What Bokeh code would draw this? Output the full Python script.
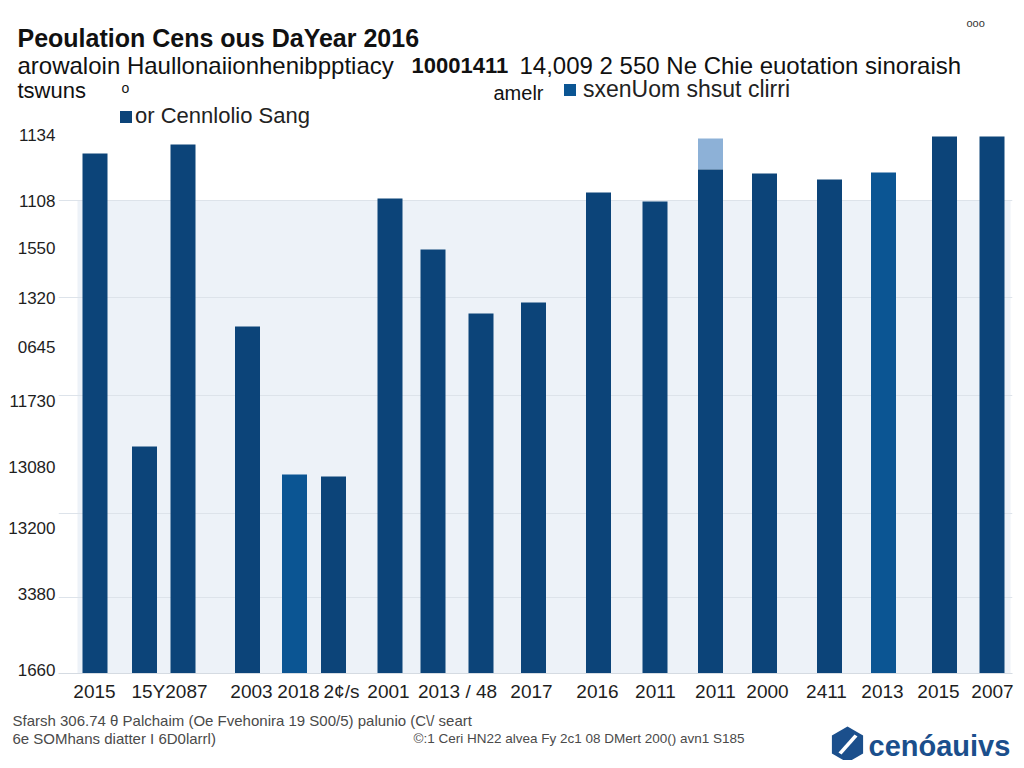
from bokeh.plotting import figure
from bokeh.layouts import column
from bokeh.models import (Range1d, FixedTicker, Label, Span, BoxAnnotation,
                          PolyAnnotation, Legend, LegendItem, ColumnDataSource)
from bokeh.embed import file_html
from bokeh.resources import INLINE

# ---------------- data ----------------
bar_slots = [3.65, 8.6, 12.45, 18.9, 23.6, 27.5, 33.15, 37.45, 42.25, 47.5,
             54.0, 59.65, 65.2, 70.6, 77.1, 82.5, 88.6, 93.35]
population = [1040, 454, 1058, 694, 398, 394, 950, 848, 720, 742,
              962, 944, 1008, 1000, 988, 1002, 1074, 1074]
population_extra = [0, 0, 0, 0, 0, 0, 0, 0, 0, 0,
                    0, 0, 62, 0, 0, 0, 0, 0]
x_tick_slots = [3.6, 11.1, 19.3, 24.0, 28.3, 33.0, 39.9, 47.3, 53.9, 59.7,
                65.7, 70.9, 76.8, 82.4, 88.0, 93.4]
x_tick_labels = ["2015", "15Y2087", "2003", "2018", "2\u00a2/s", "2001", "2013 / 48",
                 "2017", "2016", "2011", "2011", "2000", "2411", "2013", "2015", "2007"]
y_tick_values = [1078, 946, 852, 752, 654, 546, 414, 292, 160, 8]
y_tick_labels = ["1134", "1108", "1550", "1320", "0645", "11730", "13080",
                 "13200", "3380", "1660"]
grid_values = [946, 752, 556, 320, 152]
series_names = ["or Cennlolio Sang", "sxenUom shsut clirri"]

# ---------------- styles ----------------
DARK = "#0c4479"
MID = "#0b5593"
LIGHT = "#8db1d7"
TEXT = "#111111"
FOOT = "#4a4a4a"
LOGO = "#1b4f8c"
bar_colors = [MID if i in (4, 15) else DARK for i in range(len(population))]
FONT = "Liberation Sans"
W = 1016
HEAD_H, MAIN_H, FOOT_H = 104, 601, 55


def no_align(f):
    try:
        f.frame_align = False
    except Exception:
        pass


def bare_fig(h, y0):
    f = figure(width=W, height=h, x_range=Range1d(0, W), y_range=Range1d(y0 + h, y0),
               output_backend="svg", toolbar_location=None,
               x_axis_location=None, y_axis_location=None,
               min_border=0, min_border_left=0, min_border_right=0,
               min_border_top=0, min_border_bottom=0)
    f.outline_line_color = None
    f.xgrid.grid_line_color = None
    f.ygrid.grid_line_color = None
    no_align(f)
    return f


def lab(fig, text, x, y, size, bold=False, color=TEXT):
    fig.add_layout(Label(x=x, y=y, text=text, text_font=FONT, text_font_size=f"{size}px",
                         text_font_style="bold" if bold else "normal",
                         text_color=color, text_align="left", text_baseline="middle"))


# ---------------- header ----------------
head = bare_fig(HEAD_H, 0)
lab(head, "Peoulation Cens ous DaYear 2016", 17, 37, 25, bold=True)
lab(head, "arowaloin Haullonaiionhenibpptiacy", 17, 65, 24)
lab(head, "10001411", 411, 65, 22, bold=True)
lab(head, "14,009 2 550 Ne Chie euotation sinoraish", 519, 65, 24)
lab(head, "tswuns", 17, 90, 22)
lab(head, "o", 121, 87, 14)
lab(head, "amelr", 493, 92, 20)
lab(head, "ooo", 966, 22, 11, color="#333333")
# legend swatch for the second series (zero-height placeholder bar, off the visible range)
swatch_src = ColumnDataSource(dict(x=[-50], top=[0]))
swatch = head.vbar(x="x", top="top", width=1, source=swatch_src,
                   fill_color=MID, line_color=None)
head.add_layout(Legend(items=[LegendItem(label=series_names[1], renderers=[swatch])],
                       location=(562, 1), padding=0, margin=0, spacing=0,
                       border_line_color=None, background_fill_alpha=0,
                       glyph_width=15, glyph_height=15, label_standoff=6,
                       label_text_font=FONT, label_text_font_size="23px",
                       label_text_color="#222222"), "center")

# ---------------- main chart ----------------
src = ColumnDataSource(dict(
    x=bar_slots, top=population,
    top2=[a + b for a, b in zip(population, population_extra)],
    color=bar_colors,
))

p = figure(width=W, height=MAIN_H, x_range=Range1d(0, 95.4), y_range=Range1d(0, 1138),
           output_backend="svg", toolbar_location=None,
           min_border_left=58, min_border_right=4, min_border_top=0, min_border_bottom=32)
no_align(p)
p.outline_line_color = None
p.background_fill_color = "white"
p.xgrid.grid_line_color = None
p.ygrid.grid_line_color = None

p.add_layout(BoxAnnotation(left=1.9, right=95.2, bottom=0, top=grid_values[0],
                           fill_color="#edf2f8", fill_alpha=1, line_color=None,
                           level="underlay"))
for g in grid_values:
    p.add_layout(Span(location=g, dimension="width", line_color="#dde3ea",
                      line_width=1, level="underlay"))

p.vbar(x="x", bottom="top", top="top2", width=2.5, source=src,
       fill_color=LIGHT, line_color=None)
bars = p.vbar(x="x", top="top", width=2.5, source=src,
              fill_color="color", line_color=None)

p.xaxis.ticker = FixedTicker(ticks=x_tick_slots)
p.xaxis.major_label_overrides = {t: l for t, l in zip(x_tick_slots, x_tick_labels)}
p.xaxis.major_label_text_font = FONT
p.xaxis.major_label_text_font_size = "19px"
p.xaxis.major_label_text_color = "#1e1e1e"
p.xaxis.major_tick_line_color = None
p.xaxis.minor_tick_line_color = None
p.xaxis.major_tick_out = 0
p.xaxis.major_tick_in = 0
p.xaxis.axis_line_color = "#d5dbe2"
p.xaxis.major_label_standoff = 7

p.yaxis.ticker = FixedTicker(ticks=y_tick_values)
p.yaxis.major_label_overrides = {t: l for t, l in zip(y_tick_values, y_tick_labels)}
p.yaxis.major_label_text_font = FONT
p.yaxis.major_label_text_font_size = "17px"
p.yaxis.major_label_text_color = "#1e1e1e"
p.yaxis.major_tick_line_color = None
p.yaxis.minor_tick_line_color = None
p.yaxis.major_tick_out = 0
p.yaxis.major_tick_in = 0
p.yaxis.axis_line_color = None
p.yaxis.major_label_standoff = 3

p.add_layout(Legend(items=[LegendItem(label=series_names[0], renderers=[bars], index=0)],
                    location=(60, 544), padding=0, margin=0, spacing=0,
                    border_line_color=None, background_fill_alpha=0,
                    glyph_width=15, glyph_height=15, label_standoff=2,
                    label_text_font=FONT, label_text_font_size="22px",
                    label_text_color="#222222"), "center")

# ---------------- footer ----------------
foot = bare_fig(FOOT_H, HEAD_H + MAIN_H)
lab(foot, "Sfarsh 306.74 \u03b8 Palchaim (Oe Fvehonira 19 S00/5) palunio (C\\/ seart",
    12, 720, 15, color=FOOT)
lab(foot, "6e SOMhans diatter I 6D0larrl)", 12, 738, 15, color=FOOT)
lab(foot, "\u00a9:1 Ceri HN22 alvea Fy 2c1 08 DMert 200() avn1 S185", 413, 738, 13.5, color=FOOT)
cx, cy, r = 847, 744, 18
foot.add_layout(PolyAnnotation(xs=[cx, cx + 15.6, cx + 15.6, cx, cx - 15.6, cx - 15.6],
                               ys=[cy - r, cy - 9, cy + 9, cy + r, cy + 9, cy - 9],
                               fill_color=LOGO, fill_alpha=1, line_color=None))
foot.add_layout(PolyAnnotation(xs=[cx - 9, cx - 6, cx + 10, cx + 7],
                               ys=[cy + 8, cy + 10, cy - 8, cy - 10],
                               fill_color="white", fill_alpha=1, line_color=None))
lab(foot, "cen\u00f3auivs", 868, 745, 29, bold=True, color=LOGO)

layout = column(head, p, foot, spacing=0)
open("out.html", "w").write(file_html(layout, INLINE))
